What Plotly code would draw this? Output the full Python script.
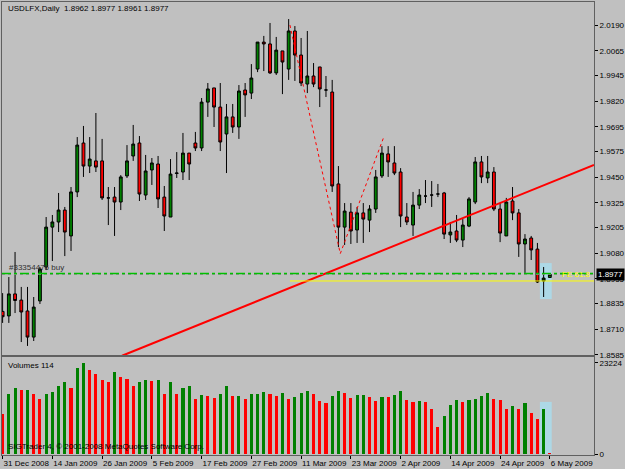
import plotly.graph_objects as go

# ---------------- data ----------------
opens = [1.8797,1.8775,1.8882,1.8852,1.8799,1.8672,1.8848,1.9013,1.9207,1.9232,
         1.9290,1.9164,1.9378,1.9616,1.9504,1.9529,1.9529,1.9349,1.9353,1.9329,
         1.9456,1.9553,1.9616,1.9363,1.9485,1.9514,1.9353,1.9256,1.9468,1.9475,
         1.9567,1.9616,1.9592,1.9815,1.9884,1.9791,1.9660,1.9743,1.9694,1.9874,
         1.9859,1.9976,2.0107,2.0098,1.9957,2.0064,1.9976,2.0161,2.0044,1.9903,
         1.9942,1.9986,1.9874,1.9864,1.9417,1.9207,1.9280,1.9193,1.9276,1.9241,
         1.9295,1.9456,1.9563,1.9519,1.9475,1.9256,1.9217,1.9314,1.9358,1.9363,
         1.9368,1.9373,1.9169,1.9188,1.9144,1.9212,1.9329,1.9524,1.9446,1.9475,
         1.9295,1.9164,1.9334,1.9276,1.9125,1.9154,1.9100,1.8945,1.8962]
highs = [1.8886,1.8964,1.9086,1.8916,1.8916,1.8867,1.9013,1.9256,1.9266,1.9373,
         1.9305,1.9402,1.9645,1.9699,1.9645,1.9762,1.9636,1.9402,1.9402,1.9460,
         1.9606,1.9704,1.9650,1.9558,1.9543,1.9553,1.9407,1.9538,1.9572,1.9665,
         1.9567,1.9670,1.9835,1.9908,1.9884,1.9908,1.9806,1.9806,1.9898,1.9908,
         2.0000,2.0107,2.0137,2.0200,2.0132,2.0064,2.0219,2.0185,2.0127,2.0161,
         2.0005,1.9986,1.9942,1.9923,1.9504,1.9324,1.9324,1.9305,1.9324,1.9314,
         1.9485,1.9601,1.9601,1.9601,1.9494,1.9324,1.9378,1.9392,1.9436,1.9431,
         1.9417,1.9378,1.9232,1.9266,1.9246,1.9353,1.9548,1.9553,1.9553,1.9499,
         1.9324,1.9349,1.9402,1.9295,1.9173,1.9164,1.9130,1.9013,1.8977]
lows = [1.8741,1.8741,1.8789,1.8648,1.8629,1.8653,1.8833,1.8998,1.9042,1.9183,
        1.9066,1.9091,1.9353,1.9451,1.9470,1.9475,1.9339,1.9217,1.9164,1.9290,
        1.9446,1.9529,1.9334,1.9339,1.9412,1.9300,1.9188,1.9256,1.9446,1.9436,
        1.9436,1.9577,1.9577,1.9743,1.9694,1.9577,1.9470,1.9665,1.9636,1.9743,
        1.9830,1.9961,1.9966,1.9952,1.9947,1.9854,1.9923,1.9918,1.9893,1.9859,
        1.9888,1.9791,1.9840,1.9378,1.9110,1.9120,1.9125,1.9130,1.9130,1.9183,
        1.9276,1.9446,1.9451,1.9460,1.9207,1.9217,1.9164,1.9295,1.9324,1.9305,
        1.9353,1.9149,1.9130,1.9134,1.9110,1.9207,1.9319,1.9421,1.9421,1.9285,
        1.9134,1.9164,1.9241,1.9062,1.8984,1.9047,1.8935,1.8867,1.8961]
closes = [1.8771,1.8882,1.8850,1.8794,1.8672,1.8818,1.9003,1.9207,1.9232,1.9290,
          1.9183,1.9378,1.9606,1.9504,1.9538,1.9499,1.9349,1.9349,1.9329,1.9451,
          1.9529,1.9611,1.9368,1.9480,1.9519,1.9344,1.9261,1.9465,1.9470,1.9567,
          1.9514,1.9592,1.9815,1.9879,1.9791,1.9621,1.9743,1.9694,1.9869,1.9850,
          1.9932,2.0107,2.0098,1.9957,2.0068,2.0010,2.0161,2.0044,1.9908,1.9942,
          1.9903,1.9879,1.9874,1.9407,1.9207,1.9285,1.9188,1.9276,1.9246,1.9295,
          1.9451,1.9567,1.9524,1.9470,1.9261,1.9232,1.9314,1.9363,1.9358,1.9363,
          1.9368,1.9173,1.9183,1.9144,1.9217,1.9344,1.9524,1.9451,1.9475,1.9295,
          1.9178,1.9329,1.9276,1.9125,1.9149,1.9096,1.8940,1.8959,1.8977]
volumes = [10171,15426,16952,16274,16443,15257,14070,15426,15765,17461,
           18393,16952,22038,23224,21529,20342,18986,18500,20936,19664,
           19241,17461,18393,18986,18647,18986,15426,18393,15426,16782,
           17461,14155,15003,14833,14409,15426,17461,14748,14833,14070,
           15257,15426,15935,15257,14748,15596,14070,14663,15596,16189,
           15257,13646,13053,14833,16020,15596,14240,15087,15150,14579,
           13646,14663,14494,15003,16189,13816,13392,13562,13223,11443,
           6781,9663,12629,13816,13307,13901,14070,14918,15596,14070,
           13901,11358,12205,11358,13053,10341,8900,11443,114]
tick_idx = [0, 8, 16, 24, 32, 40, 48, 56, 64, 72, 80, 88]
tick_labels = ["31 Dec 2008", "14 Jan 2009", "26 Jan 2009", "5 Feb 2009",
               "17 Feb 2009", "27 Feb 2009", "11 Mar 2009", "23 Mar 2009",
               "2 Apr 2009", "14 Apr 2009", "24 Apr 2009", "6 May 2009"]
price_ticks = [2.0190, 2.0065, 1.9945, 1.9820, 1.9695, 1.9575, 1.9450,
               1.9325, 1.9205, 1.9080, 1.8955, 1.8835, 1.8710, 1.8585]
zigzag_x = [46.2, 54.3, 61.3]
zigzag_y = [2.0190, 1.9078, 1.9646]
trend_x = [19.2, 95.1]
trend_y = [1.8581, 1.9509]
order_price = 1.8981
fe_price = 1.8945
fe_start = 46.2
bid_price = 1.8977
highlight_x = [86.4, 88.3]
highlight_y = [1.8857, 1.9032]
highlight_vol = 13300

# ---------------- figure ----------------
BG = "#C0C0C0"
FONT = "Liberation Sans"
n = len(opens)
idx = list(range(n))

vol_colors = ["#FF0000"]
for i in range(1, n):
    vol_colors.append("#008000" if volumes[i] > volumes[i - 1] else "#FF0000")

fig = go.Figure()

fig.add_trace(go.Candlestick(
    x=idx, open=opens, high=highs, low=lows, close=closes,
    increasing=dict(fillcolor="#008000", line=dict(color="#000000", width=1)),
    decreasing=dict(fillcolor="#FF0000", line=dict(color="#000000", width=1)),
    whiskerwidth=0, xaxis="x", yaxis="y", showlegend=False, hoverinfo="skip"))

fig.add_trace(go.Scatter(x=trend_x, y=trend_y, mode="lines",
                         line=dict(color="#FF0000", width=2),
                         xaxis="x", yaxis="y", showlegend=False, hoverinfo="skip"))
fig.add_trace(go.Scatter(x=zigzag_x, y=zigzag_y, mode="lines",
                         line=dict(color="#FF0000", width=1, dash="dot"),
                         xaxis="x", yaxis="y", showlegend=False, hoverinfo="skip"))

fig.add_trace(go.Bar(x=idx, y=volumes, marker=dict(color=vol_colors, line=dict(width=0)),
                     width=0.5, xaxis="x2", yaxis="y2", showlegend=False, hoverinfo="skip"))

x_range = [-0.1, 95.1]
y_range = [1.8585, 2.0302]
v_range = [-250, 24750]
split = 0.2208

axis_line = dict(showline=True, linecolor="#606060", linewidth=1, mirror=True,
                 showgrid=False, zeroline=False, automargin=False)

fig.update_layout(
    width=625, height=469,
    margin=dict(l=2, r=31, t=2, b=14),
    paper_bgcolor=BG, plot_bgcolor=BG,
    font=dict(family=FONT, size=8, color="#000000"),
    boxgap=0.35,
    bargap=0,
    xaxis=dict(domain=[0, 1], anchor="y", range=x_range, showticklabels=False,
               ticks="", rangeslider=dict(visible=False), **axis_line),
    xaxis2=dict(domain=[0, 1], anchor="y2", range=x_range, matches="x",
                tickvals=tick_idx, ticktext=tick_labels, ticks="outside",
                ticklen=3, tickcolor="#000000", ticklabelposition="outside right",
                tickangle=0,
                tickfont=dict(family=FONT, size=8, color="#000000"), **axis_line),
    yaxis=dict(domain=[split, 1], anchor="x", side="right", range=y_range,
               tickvals=price_ticks, ticktext=[f"{v:.4f}" for v in price_ticks],
               ticks="outside", ticklen=3, tickcolor="#000000",
               tickfont=dict(family=FONT, size=8, color="#000000"), **axis_line),
    yaxis2=dict(domain=[0, split - 0.0045], anchor="x2", side="right", range=v_range,
                tickvals=[0, 23224], ticktext=["0", "23224"],
                ticks="outside", ticklen=3, tickcolor="#000000",
                tickfont=dict(family=FONT, size=8, color="#000000"), **axis_line),
)

# highlight rectangles (behind)
fig.add_shape(type="rect", xref="x", yref="y", x0=highlight_x[0], x1=highlight_x[1],
              y0=highlight_y[0], y1=highlight_y[1], fillcolor="#ADD8E6",
              line=dict(width=0), layer="below")
fig.add_shape(type="rect", xref="x2", yref="y2", x0=highlight_x[0], x1=highlight_x[1],
              y0=0, y1=highlight_vol, fillcolor="#ADD8E6",
              line=dict(width=0), layer="below")

# order line (green dash-dot) and bid line
fig.add_shape(type="line", xref="paper", yref="y", x0=0, x1=1, y0=bid_price, y1=bid_price,
              line=dict(color="#909090", width=1, dash="dot"))
fig.add_shape(type="line", xref="paper", yref="y", x0=0, x1=1, y0=order_price, y1=order_price,
              line=dict(color="#00C000", width=1.5, dash="dashdot"))
# FE 61.8 line
fig.add_shape(type="line", xref="x", yref="y", x0=fe_start, x1=x_range[1], y0=fe_price, y1=fe_price,
              line=dict(color="#FFFF00", width=1))

ann = []
ann.append(dict(text="USDLFX,Daily  1.8962 1.8977 1.8961 1.8977", xref="paper", yref="paper",
                x=0.006, y=1.0, xanchor="left", yanchor="top", showarrow=False,
                font=dict(family=FONT, size=8, color="#000000")))
ann.append(dict(text="#33354476 buy", xref="paper", yref="y", x=0.008, y=order_price,
                xanchor="left", yanchor="bottom", showarrow=False,
                font=dict(family=FONT, size=8, color="#303030")))
ann.append(dict(text="FE 61.8", xref="paper", yref="y", x=0.998, y=fe_price,
                xanchor="right", yanchor="bottom", showarrow=False,
                font=dict(family=FONT, size=8, color="#FFFF00")))
ann.append(dict(text="1.8977", xref="paper", yref="y", x=1.0, y=bid_price,
                xanchor="left", yanchor="middle", showarrow=False, bgcolor="#000000",
                xshift=2, font=dict(family=FONT, size=8, color="#FFFFFF")))
ann.append(dict(text="Volumes 114", xref="paper", yref="paper", x=0.006, y=split - 0.008,
                xanchor="left", yanchor="top", showarrow=False,
                font=dict(family=FONT, size=8, color="#000000")))
ann.append(dict(text="SIGTrader 4, © 2001-2008 MetaQuotes Software Corp.", xref="paper", yref="paper",
                x=0.006, y=0.005, xanchor="left", yanchor="bottom", showarrow=False,
                font=dict(family=FONT, size=8, color="#000000")))
fig.update_layout(annotations=ann)

fig.write_html("out.html")
